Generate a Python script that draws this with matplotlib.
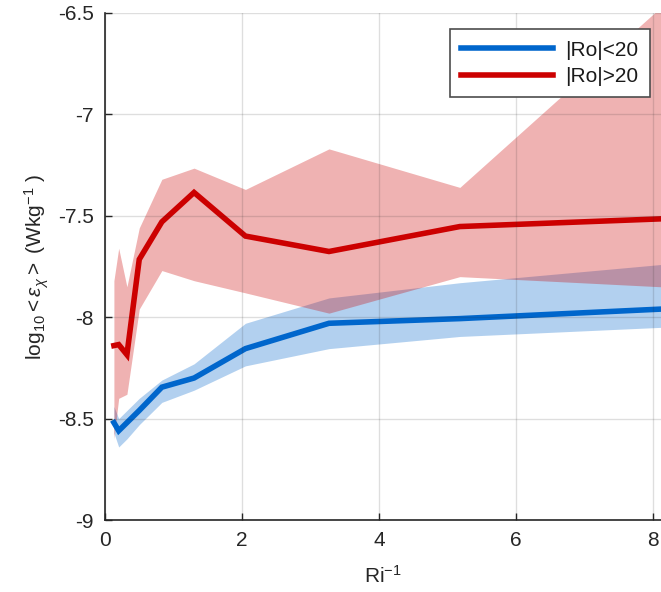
import matplotlib
matplotlib.use("Agg")
import matplotlib.pyplot as plt

plt.rcParams['font.family'] = ['Liberation Sans', 'DejaVu Sans']
plt.rcParams['mathtext.fontset'] = 'custom'
plt.rcParams['mathtext.rm'] = 'Liberation Sans'
plt.rcParams['mathtext.it'] = 'Liberation Sans:italic'
plt.rcParams['mathtext.sf'] = 'Liberation Sans'

# Data
ri_inv = [0.13, 0.20, 0.32, 0.50, 0.83, 1.30, 2.05, 3.27, 5.18, 8.12]

blue_mean = [-8.52, -8.56, -8.52, -8.46, -8.345, -8.30, -8.155, -8.03, -8.007, -7.96]
blue_upper = [-8.44, -8.50, -8.46, -8.40, -8.31, -8.23, -8.03, -7.905, -7.83, -7.74]
blue_lower = [-8.57, -8.64, -8.60, -8.53, -8.42, -8.36, -8.24, -8.155, -8.095, -8.05]

red_mean = [-8.14, -8.135, -8.185, -7.715, -7.53, -7.385, -7.60, -7.676, -7.553, -7.515]
red_upper = [-7.82, -7.66, -7.85, -7.56, -7.32, -7.265, -7.37, -7.17, -7.36, -6.47]
red_lower = [-8.60, -8.40, -8.38, -7.96, -7.77, -7.82, -7.88, -7.98, -7.80, -7.85]

labels = ['|Ro|<20', '|Ro|>20']
xticks = [0, 2, 4, 6, 8]
yticks = [-9, -8.5, -8, -7.5, -7, -6.5]
ytick_labels = ['-9', '-8.5', '-8', '-7.5', '-7', '-6.5']

blue = (0.0, 0.4, 0.8)
red = (0.8, 0.0, 0.0)
dark = (0.15, 0.15, 0.15)
fs = 15

fig = plt.figure(figsize=(6.61, 5.92), dpi=100)
ax = fig.add_axes([105/661, 72/592, 1 - 105/661, (520-13)/592])

ax.fill_between(ri_inv, blue_lower, blue_upper, color=blue, alpha=0.3, linewidth=0)
ax.fill_between(ri_inv, red_lower, red_upper, color=red, alpha=0.3, linewidth=0)
ax.plot(ri_inv, blue_mean, color=blue, lw=4, label=labels[0], solid_joinstyle='miter')
ax.plot(ri_inv, red_mean, color=red, lw=4, label=labels[1], solid_joinstyle='miter')

ax.set_xlim(0, 8.117)
ax.set_ylim(-9, -6.5)
ax.set_xticks(xticks)
ax.set_xticklabels([str(t) for t in xticks])
ax.set_yticks(yticks)
ax.set_yticklabels(ytick_labels)

ax.grid(True, color=dark, alpha=0.15, linewidth=1)
ax.set_axisbelow(False)

for s in ['top', 'right']:
    ax.spines[s].set_visible(False)
for s in ['left', 'bottom']:
    ax.spines[s].set_color(dark)
    ax.spines[s].set_linewidth(1.2)

ax.tick_params(direction='in', length=5, width=1, colors=dark, labelsize=fs,
               labelcolor=dark)
ax.tick_params(axis='y', pad=8)
ax.tick_params(axis='x', pad=8)

ax.set_xlabel(r'Ri$^{-1}$', fontsize=fs, color=dark, labelpad=11)
ax.set_ylabel(r'log$_{10}$$<\epsilon_{\chi}>$ (Wkg$^{-1}$ )', fontsize=fs, color=dark, labelpad=5)

leg = ax.legend(loc='upper right', bbox_to_anchor=(0.98, 0.968), fontsize=fs,
                frameon=True, fancybox=False, handlelength=4.4, handletextpad=0.6,
                borderpad=0.55, labelspacing=0.35, borderaxespad=0)
leg.get_frame().set_edgecolor((0.3, 0.3, 0.3))
leg.get_frame().set_linewidth(1.2)
leg.get_frame().set_alpha(1)
for t in leg.get_texts():
    t.set_color((0.1, 0.1, 0.1))

fig.savefig('out.png', dpi=100)
